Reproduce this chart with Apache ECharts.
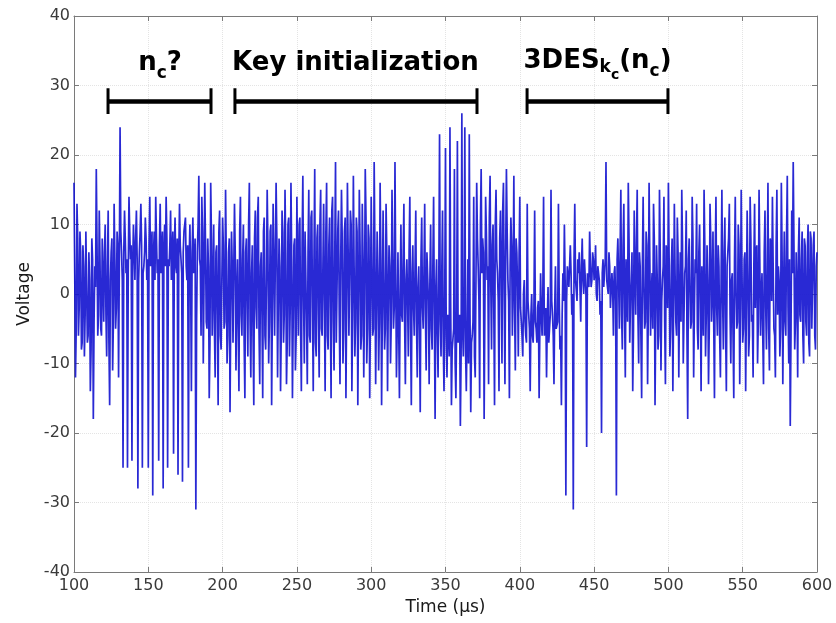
<!DOCTYPE html>
<html>
<head>
<meta charset="utf-8">
<script src="https://cdn.jsdelivr.net/npm/echarts@6/dist/echarts.min.js"></script>
<style>html,body{margin:0;padding:0;background:#fff;}#c{width:836px;height:623px;}</style>
</head>
<body>
<div id="c"></div>
<script>
// Sampling grid of the trace (µs): spike samples on whole µs, core samples half-way between
const T0 = 100, DT = 1;
// Spike (extreme) voltage samples, one per µs
const v100 = [
  16, -12, 13, -6, 9, -8, 7, -9, 9, -7,
  6, -14, 8, -18, 4, 18, -6, 12, -5, 8,
  -4, 10, -9, 12, -16, 6, -11, 13, -5, 9,
  -12, 24, 6, -25, 12, 3, -25, 14, 5, -24,
  10, 2, 12, -28, 6, 13, -25, 4, 11, 2
];
const v150 = [
  -25, 14, 5, -29, 9, 14, 3, -24, 13, 6,
  -28, 10, 14, -25, 4, 12, 6, -23, 11, 3,
  -26, 13, 5, -27, 9, 11, 2, -25, 10, -14,
  11, 4, -31, 6, 17, 4, 14, -10, 16, -4,
  8, -15, 16, -6, 10, -12, 7, -16, 12, -8
];
const v200 = [
  11, -5, 15, -10, 6, -17, 9, -7, 13, -11,
  5, -14, 14, -6, 10, -15, 8, -9, 16, -12,
  7, -16, 12, -5, 14, -13, 6, -15, 11, -8,
  15, -10, 9, -16, 13, -6, 16, -12, 8, -14,
  12, -7, 15, -13, 10, -9, 16, -15, 7, -11
];
const v250 = [
  14, -6, 11, -14, 17, -10, 9, -13, 15, -7,
  12, -14, 18, -9, 10, -12, 15, -6, 13, -14,
  16, -8, 11, -15, 14, -11, 19, -7, 12, -13,
  15, -10, 9, -15, 16, -6, 12, -14, 17, -9,
  11, -16, 15, -8, 13, -12, 18, -10, 10, -15
];
const v300 = [
  14, -6, 19, -13, 9, -11, 16, -16, 12, -8,
  13, -14, 7, -10, 15, -5, 19, -12, 6, -15,
  10, -4, 13, -13, 5, -9, 14, -16, 7, -6,
  12, -12, 4, -17, 11, -5, 13, -11, 6, -13,
  10, -8, 14, -18, 5, -12, 23, -9, 12, -14
];
const v350 = [
  21, -12, -4, 24, -16, -8, 18, -15, 22, -6,
  -19, 26, -9, 24, -14, 5, 23, -17, -6, 14,
  -12, 16, 4, -15, 18, 8, -18, 14, 2, -13,
  17, -8, 10, -16, 15, 3, -14, 12, -10, 16,
  -13, 18, 2, -15, 11, -6, 17, -11, 6, -9
];
const v400 = [
  14, -4, -9, 2, -6, 13, -3, -14, 0, -7,
  12, -5, -2, -15, 3, -6, 14, -4, -12, 1,
  -7, 15, -3, -13, 4, -5, 13, -8, -16, 3,
  10, -29, 4, 1, 7, -3, -31, 13, 2, 5,
  6, -4, 8, 0, 5, -22, 3, 9, 1, 6
];
const v450 = [
  2, 7, -1, 4, -3, -20, 5, 1, 19, 2,
  6, -2, 3, -6, 4, -29, 8, -5, 15, -8,
  13, -12, 5, 16, -7, 2, -14, 12, -3, 15,
  -10, 4, -15, 14, -5, 9, -13, 16, -6, 3,
  13, -16, 7, -8, 15, -11, 2, 14, -13, 5
];
const v500 = [
  16, -9, 4, -14, 13, -4, 11, -12, 6, 15,
  -10, 3, 12, -18, 8, -5, 14, -12, 5, 13,
  -8, 10, -14, 4, 15, -9, 7, -13, 13, -4,
  9, -15, 14, -6, 4, -12, 15, -8, 11, -14,
  6, 13, -10, 3, -15, 14, -5, 10, -13, 15
];
const v550 = [
  -7, 5, -14, 12, -9, 14, -4, -12, 13, 6,
  -10, 15, -6, 3, -13, 12, -8, 16, -11, 7,
  14, -5, -12, 15, 4, -9, 16, -13, 9, -6,
  17, -10, -19, 12, 19, -8, 6, -12, 11, -4,
  9, -10, 7, -6, 10, -9, 8, -5, 9, -8,
  6
];
// Core-band samples (between spikes)
const c100 = [
  3, -5, 8, -2, 6, -7, 4, -3, 9, -6,
  2, -8, 5, -4, 1, 7, -3, 5, -6, 2,
  6, -3, 4, -7, 2, 8, -4, 5, -2, 7,
  4, 9, 2, 6, 8, 5, 3, 9, 7, 4,
  6, 8, 5, 2, 9, 7, 3, 6, 8, 5
];
const c150 = [
  7, 4, 9, 6, 2, 8, 5, 7, 3, 9,
  6, 4, 8, 5, 7, 2, 9, 6, 4, 8,
  5, 7, 3, 6, 9, 4, 7, 5, 2, 6,
  3, 8, -4, 10, 5, -6, 9, 2, 7, -5,
  4, -7, 8, 1, -5, 6, -3, 9, -6, 2
];
const c200 = [
  7, -4, 5, -6, 8, -2, 4, -7, 6, 0,
  -5, 9, -3, 5, -7, 6, -1, 10, -4, 3,
  -6, 8, -2, 11, -5, 4, -3, 9, -6, 2,
  7, -4, 10, -2, 5, -6, 8, -1, 4, -5,
  9, -3, 6, -7, 11, -2, 5, -4, 8, -6
];
const c250 = [
  3, 10, -5, 7, -1, 9, -4, 6, -6, 11,
  -2, 5, -7, 8, -3, 10, -5, 4, -1, 9,
  -6, 7, -2, 12, -4, 6, -7, 9, -3, 5,
  8, -5, 11, -1, 6, -6, 10, -3, 4, -4,
  9, -2, 7, -6, 5, -1, 11, -5, 8, -3
];
const c300 = [
  4, -5, 6, -2, 3, -4, 5, -3, 2, -5,
  6, -1, 4, -4, 5, -2, 3, -5, 6, 0,
  -3, 5, -4, 2, -1, 6, -5, 3, -2, 4,
  -4, 1, -5, 5, -2, 3, -3, 6, -1, 2,
  -5, 4, -3, 1, -6, 2, -4, 3, -7, 0
];
const c350 = [
  -6, -3, -9, -2, -8, -5, -10, -4, -7, -3,
  -9, -5, -2, -8, -6, -10, -3, -7, -4, -9,
  2, 8, -1, 10, 3, 6, -2, 9, 4, 11,
  1, 7, -2, 10, 5, -1, 8, 3, 12, 0,
  6, 9, -1, 4, 7, 2, -2, 8, 1, 5
];
const c400 = [
  -2, -6, 0, -4, -7, -1, -5, -3, -6, -2,
  -4, -7, -1, -5, -3, 0, -6, -2, -4, -7,
  -3, -1, -6, -2, -5, -4, 0, -6, -3, -1,
  2, -1, 4, 1, 3, 0, 5, 2, -1, 3,
  1, 4, 2, 5, 0, 3, 1, 4, 2, 5
];
const c450 = [
  3, 0, 4, 2, -1, 3, 1, 5, 2, 0,
  4, -2, 1, 3, -1, 5, 2, 6, -3, 7,
  -2, 5, -4, 8, -1, 6, -5, 3, 7, -3,
  6, -6, 4, 1, -4, 7, -2, 5, 0, -5,
  8, -3, 2, -6, 6, -1, 4, -4, 7, -2
];
const c500 = [
  5, -5, 8, -2, 3, -6, 6, 0, -4, 7,
  -3, 4, -6, 5, 1, -4, 8, -2, 3, -5,
  6, -1, 4, -6, 7, -3, 2, -5, 8, 0,
  -4, 5, -2, 7, -6, 3, -1, 6, -5, 4,
  8, -3, 2, -6, 5, 0, -4, 7, -2, 4
];
const c550 = [
  -5, 6, -1, 3, -6, 8, -3, 4, -2, 7,
  -4, 5, 0, -6, 6, -2, 3, -5, 8, -1,
  4, -6, 7, -3, 2, -5, 6, 0, -4, 8,
  -2, 5, -6, 3, 7, -4, 1, 6, -3, 5,
  -6, 8, -4, 6, -7, 9, -5, 7, -6, 4
];
const spikes = [].concat(v100, v150, v200, v250, v300, v350, v400, v450, v500, v550);
const core = [].concat(c100, c150, c200, c250, c300, c350, c400, c450, c500, c550);

// Axis ticks
const xTicks = { min: 100, max: 600, step: 50 };
const yTicks = { min: -40, max: 40, step: 10 };

// Annotation brackets (time span, µs) and their level (V)
const bracketSpans = [[122.9, 192.2], [208.3, 371.2], [404.9, 499.7]];
const bracketLevel = 27.7;
const bracketCap = [25.9, 29.6];
// Annotation labels (centre in data units)
const labelTexts = ['{m|n}{s|c}{m|?}', '{m|Key initialization}', '{m|3DES}{k|k}{c|c}{m|(n}{s|c}{m|)}'];
const labelPos = [[157.9, 33.2], [289.4, 33.2], [452.3, 33.5]];

const traceData = [];
spikes.forEach((v, i) => {
  traceData.push([T0 + i * DT, v]);
  if (i < core.length) traceData.push([T0 + (i + 0.5) * DT, core[i]]);
});

const series = [{
  type: 'line',
  data: traceData,
  showSymbol: false,
  symbol: 'none',
  sampling: null,
  lineStyle: { width: 1.7, color: '#1212cf', opacity: 0.9 },
  silent: true,
  z: 2
}];

bracketSpans.forEach(sp => {
  series.push({
    type: 'line', symbol: 'none', silent: true, z: 5,
    data: [[sp[0], bracketLevel], [sp[1], bracketLevel]],
    lineStyle: { width: 4.5, color: '#000', cap: 'butt' }
  });
  sp.forEach(x => {
    series.push({
      type: 'line', symbol: 'none', silent: true, z: 5,
      data: [[x, bracketCap[0]], [x, bracketCap[1]]],
      lineStyle: { width: 3, color: '#000', cap: 'butt' }
    });
  });
});

const richStyles = {
  m: { fontFamily: 'DejaVu Sans', fontWeight: 'bold', fontSize: 26, color: '#000', lineHeight: 42 },
  s: { fontFamily: 'DejaVu Sans', fontWeight: 'bold', fontSize: 17, color: '#000', lineHeight: 17, verticalAlign: 'bottom', padding: [0, 0, 2, 0] },
  k: { fontFamily: 'DejaVu Sans', fontWeight: 'bold', fontSize: 17, color: '#000', lineHeight: 17, verticalAlign: 'bottom', padding: [0, 0, 6, 0] },
  c: { fontFamily: 'DejaVu Sans', fontWeight: 'bold', fontSize: 14, color: '#000', lineHeight: 14, verticalAlign: 'bottom' }
};

labelTexts.forEach((t, i) => {
  series.push({
    type: 'scatter', silent: true, z: 6,
    symbolSize: 1,
    itemStyle: { color: 'rgba(0,0,0,0)' },
    data: [labelPos[i]],
    label: { show: true, position: 'inside', color: '#000', opacity: 1, textBorderWidth: 0, formatter: t, rich: richStyles }
  });
});

const axisCommon = {
  type: 'value',
  axisLine: { show: true, onZero: false, lineStyle: { color: '#7a7a7a', width: 1 } },
  axisTick: { show: true, inside: true, length: 5, lineStyle: { color: '#7a7a7a' } }
};

const chart = echarts.init(document.getElementById('c'), null, { renderer: 'canvas' });
chart.setOption({
  animation: false,
  backgroundColor: '#ffffff',
  grid: { left: 74, right: 19, top: 16, bottom: 51, containLabel: false },
  xAxis: [
    Object.assign({}, axisCommon, {
      min: xTicks.min, max: xTicks.max, interval: xTicks.step, position: 'bottom',
      axisLabel: { color: '#3a3a3a', fontSize: 16, fontFamily: 'DejaVu Sans', margin: 6 },
      splitLine: { show: true, lineStyle: { color: '#e4e4e4', type: 'dotted', width: 1 } },
      name: 'Time (µs)', nameLocation: 'middle', nameGap: 22,
      nameTextStyle: { color: '#1a1a1a', fontSize: 17, fontFamily: 'DejaVu Sans' }
    }),
    Object.assign({}, axisCommon, {
      min: xTicks.min, max: xTicks.max, interval: xTicks.step, position: 'top',
      axisLabel: { show: false }, splitLine: { show: false }
    })
  ],
  yAxis: [
    Object.assign({}, axisCommon, {
      min: yTicks.min, max: yTicks.max, interval: yTicks.step, position: 'left',
      axisLabel: { color: '#3a3a3a', fontSize: 16, fontFamily: 'DejaVu Sans', margin: 4 },
      splitLine: { show: true, lineStyle: { color: '#e4e4e4', type: 'dotted', width: 1 } },
      name: 'Voltage', nameLocation: 'middle', nameGap: 37, nameRotate: 90,
      nameTextStyle: { color: '#1a1a1a', fontSize: 17, fontFamily: 'DejaVu Sans' }
    }),
    Object.assign({}, axisCommon, {
      min: yTicks.min, max: yTicks.max, interval: yTicks.step, position: 'right',
      axisLabel: { show: false }, splitLine: { show: false }
    })
  ],
  series: series
});
</script>
</body>
</html>
